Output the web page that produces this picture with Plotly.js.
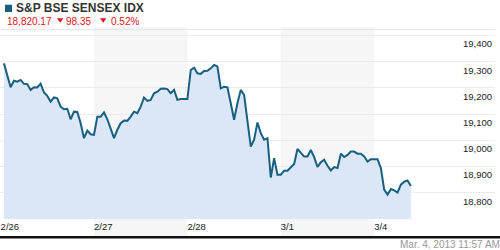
<!DOCTYPE html>
<html><head><meta charset="utf-8">
<script src="https://cdn.plot.ly/plotly-3.0.1.min.js"></script>
<style>html,body{margin:0;padding:0;background:#fff}#chart{width:500px;height:250px}</style>
</head><body><div id="chart"></div>
<script>
// ---- data ----
const dates = ['2/26', '2/27', '2/28', '3/1', '3/4'];
const day1 = [19293,19242,19202,19227,19223,19230,19215,19214,19192,19202,19201,19216,19182,19169,19147,19163,19160,19128,19118,19120,19080,19109,19108,19065,19008,19037,19023,19021];
const day2 = [19090,19090,19106,19080,19040,19008,19040,19065,19075,19074,19090,19109,19103,19128,19163,19150,19154,19179,19185,19196,19197,19195,19179,19192,19154,19157,19157,19157];
const day3 = [19268,19277,19255,19253,19264,19265,19274,19287,19281,19198,19204,19202,19141,19078,19141,19192,19173,19078,18976,19002,19068,19027,19002,19008,18858,18932,18869,18869];
const day4 = [18884,18884,18898,18910,18967,18951,18938,18938,18963,18936,18898,18916,18926,18903,18885,18898,18894,18949,18936,18944,18957,18957,18949,18949,18938,18919,18928,18928];
const day5 = [18928,18894,18812,18793,18814,18809,18801,18831,18842,18847,18826];
const pointsPerDay = 28;
const yTickVals = [18700, 18800, 18900, 19000, 19100, 19200, 19300, 19400];
const yTickText = ['', '18,800', '18,900', '19,000', '19,100', '19,200', '19,300', '19,400'];
const indexName = 'S&P BSE SENSEX IDX';
const lastValue = '18,820.17';
const netChange = '98.35';
const pctChange = '0.52%';
const stamp = 'Mar. 4, 2013 11:57 AM';

// ---- build series ----
const days = [day1, day2, day3, day4, day5];
const xs = [], ys = [];
days.forEach((vals, d) => vals.forEach((v, k) => { xs.push(d + (k + 1) / pointsPerDay); ys.push(v); }));

// pixel helpers for decorations (plot area: x 0..495, y 29..219)
const PW = 495, PT = 29, PB = 219, PH = PB - PT;
const px = v => v / PW;
const py = v => (PB - v) / PH;

const font = 'Liberation Sans, Arial, Helvetica, sans-serif';
const red = '#e3141c';

const tri = (x0) => ({type: 'path', xref: 'paper', yref: 'paper',
  path: `M ${px(x0)},${py(18.3)} L ${px(x0 + 6.4)},${py(18.3)} L ${px(x0 + 3.2)},${py(22.8)} Z`,
  fillcolor: red, line: {width: 0}});

const shapes = [
  {type: 'rect', xref: 'x', yref: 'paper', x0: 1, x1: 2, y0: py(236), y1: py(27), fillcolor: '#f6f6f6', line: {width: 0}, layer: 'below'},
  {type: 'rect', xref: 'x', yref: 'paper', x0: 3, x1: 4, y0: py(236), y1: py(27), fillcolor: '#f6f6f6', line: {width: 0}, layer: 'below'},
  {type: 'line', xref: 'paper', yref: 'paper', x0: 0, x1: 1, y0: py(29.5), y1: py(29.5), line: {color: '#e6e6e6', width: 1}, layer: 'below'},
  {type: 'line', xref: 'paper', yref: 'paper', x0: 0, x1: 500 / PW, y0: py(237.2), y1: py(237.2), line: {color: '#111111', width: 2.4}},
  {type: 'rect', xref: 'paper', yref: 'paper', x0: px(5), x1: px(12), y0: py(12), y1: py(4.7), fillcolor: '#1d5e7e', line: {width: 0}},
  tri(57), tri(100)
];

const ann = (text, x, y, anchor, size, color, bold, h) => ({
  text: bold ? '<b>' + text + '</b>' : text, xref: 'paper', yref: 'paper',
  x: px(x), y: py(y), xanchor: anchor, yanchor: 'middle', showarrow: false, borderpad: 0,
  height: h, valign: 'middle',
  font: {family: font, size: size, color: color}
});

const annotations = [
  ann(indexName, 15, 8.4, 'left', 12, '#333333', true, 12),
  ann(lastValue, 5.5, 20.6, 'left', 10, red, false, 10),
  ann(netChange, 65, 20.6, 'left', 10, red, false, 10),
  ann(pctChange, 109.5, 20.6, 'left', 10, red, false, 10),
  ann(stamp, 501, 244, 'right', 10, '#999999', false, 10)
];

const trace = {
  x: xs, y: ys, type: 'scatter', mode: 'lines',
  line: {color: '#17607f', width: 2},
  fill: 'tozeroy', fillcolor: '#dbe6f7',
  hoverinfo: 'skip'
};

const layout = {
  width: 500, height: 250,
  margin: {l: 0, r: 500 - PW, t: PT, b: 250 - PB},
  paper_bgcolor: '#ffffff', plot_bgcolor: 'rgba(0,0,0,0)',
  showlegend: false,
  font: {family: font, size: 9, color: '#222'},
  xaxis: {
    range: [-0.0064, 5.2934], tickvals: [0, 1, 2, 3, 4], ticktext: dates,
    showgrid: false, zeroline: false, showline: false, ticks: '',
    ticklabelposition: 'outside right', tickfont: {family: font, size: 9.5, color: '#222'},
    fixedrange: true
  },
  yaxis: {
    range: [18700, 19424], side: 'right', tickvals: yTickVals, ticktext: yTickText,
    showgrid: true, gridcolor: '#ececec', gridwidth: 1, zeroline: false, showline: false, ticks: '',
    ticklabelposition: 'inside bottom', ticklabelshift: 2, tickfont: {family: font, size: 9.5, color: '#222'},
    fixedrange: true
  },
  shapes: shapes,
  annotations: annotations
};

Plotly.newPlot('chart', [trace], layout, {displayModeBar: false, staticPlot: true});
</script>
</body></html>
